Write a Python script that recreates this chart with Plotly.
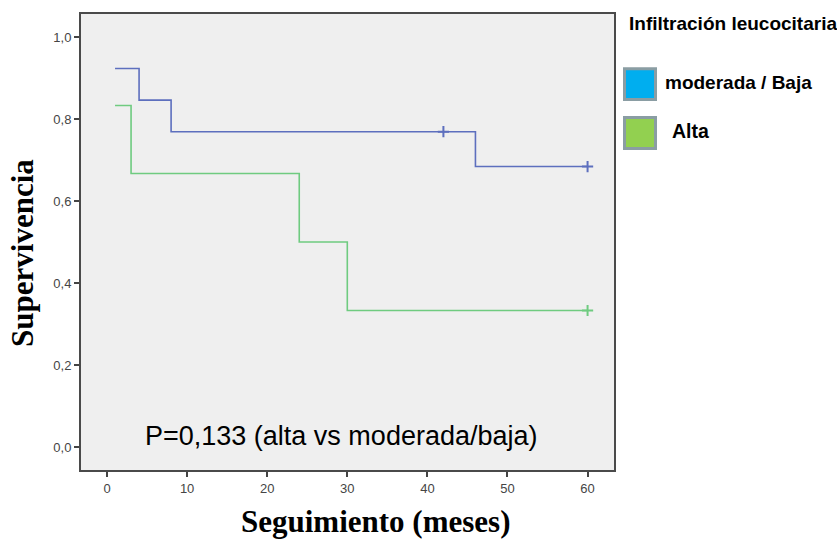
import plotly.graph_objects as go

# Kaplan-Meier step data
blue_t = [1, 4, 8, 46, 60]
blue_s = [0.923, 0.846, 0.769, 0.684, 0.684]
blue_cens_t = [42, 60]
blue_cens_s = [0.769, 0.684]

green_t = [1, 3, 24, 30, 60]
green_s = [0.833, 0.667, 0.5, 0.333, 0.333]
green_cens_t = [60]
green_cens_s = [0.333]

y_ticks = [0.0, 0.2, 0.4, 0.6, 0.8, 1.0]
y_ticktext = ["0,0", "0,2", "0,4", "0,6", "0,8", "1,0"]
x_ticks = [0, 10, 20, 30, 40, 50, 60]

legend_labels = ["moderada / Baja", "Alta"]
legend_fill = ["#00AEEF", "#92D050"]

blue_col = "#5D6FBE"
green_col = "#6FCB80"

fig = go.Figure()
fig.add_trace(go.Scatter(x=blue_t, y=blue_s, mode="lines", line=dict(shape="hv", color=blue_col, width=1.6), showlegend=False))
fig.add_trace(go.Scatter(x=green_t, y=green_s, mode="lines", line=dict(shape="hv", color=green_col, width=1.6), showlegend=False))
fig.add_trace(go.Scatter(x=blue_cens_t, y=blue_cens_s, mode="markers",
                         marker=dict(symbol="cross-thin", size=8, line=dict(color=blue_col, width=2)), showlegend=False))
fig.add_trace(go.Scatter(x=green_cens_t, y=green_cens_s, mode="markers",
                         marker=dict(symbol="cross-thin", size=8, line=dict(color=green_col, width=2)), showlegend=False))

fig.update_layout(
    width=837, height=539,
    margin=dict(l=81, r=223, t=12, b=69),
    paper_bgcolor="white", plot_bgcolor="#EFEFEF",
    font=dict(family="Arial, Liberation Sans, sans-serif", color="#404040"),
)
fig.update_xaxes(range=[-3.25, 63.3], tickvals=x_ticks, ticks="outside", ticklen=5, tickwidth=1.5, tickcolor="#444",
                 showgrid=False, zeroline=False, showline=True, linecolor="#4A4A4A", linewidth=2, mirror=True,
                 tickfont=dict(size=13, color="#454545"))
fig.update_yaxes(range=[-0.056, 1.056], tickvals=y_ticks, ticktext=y_ticktext, ticks="outside", ticklen=5, tickwidth=1.5,
                 tickcolor="#444", showgrid=False, zeroline=False, showline=True, linecolor="#4A4A4A", linewidth=2, mirror=True,
                 tickfont=dict(size=13, color="#454545"))

# axis titles
fig.add_annotation(text="<b>Supervivencia</b>", xref="paper", yref="paper", x=(23 - 81) / 533, y=1 - (252 - 12) / 458,
                   xanchor="center", yanchor="middle", textangle=-90, showarrow=False,
                   font=dict(family="Liberation Serif, Times New Roman, serif", size=31, color="black"))
fig.add_annotation(text="<b>Seguimiento (meses)</b>", xref="paper", yref="paper", x=(375 - 81) / 533, y=-(522 - 470) / 458,
                   xanchor="center", yanchor="middle", showarrow=False,
                   font=dict(family="Liberation Serif, Times New Roman, serif", size=31, color="black"))

# p-value text
fig.add_annotation(text="P=0,133 (alta vs moderada/baja)", xref="paper", yref="paper", x=(341 - 81) / 533, y=1 - (436 - 12) / 458,
                   xanchor="center", yanchor="middle", showarrow=False,
                   font=dict(family="Arial, Liberation Sans, sans-serif", size=27, color="black"))

# legend title
fig.add_annotation(text="<b>Infiltración leucocitaria</b>", xref="paper", yref="paper", x=(733 - 81) / 533, y=1 - (22 - 12) / 458,
                   xanchor="center", yanchor="middle", showarrow=False,
                   font=dict(family="Arial, Liberation Sans, sans-serif", size=19, color="black"))

# legend boxes and labels
box_tops = [66, 115]
label_x = [663, 670]
label_size = [19, 19.5]
for i, lab in enumerate(legend_labels):
    y0 = box_tops[i]
    fig.add_shape(type="rect", xref="paper", yref="paper",
                  x0=(624.5 - 81) / 533, x1=(655.5 - 81) / 533,
                  y0=1 - (y0 + 32 - 12) / 458, y1=1 - (y0 + 1 - 12) / 458,
                  fillcolor=legend_fill[i], line=dict(color="#8A9DA3", width=3))
    fig.add_annotation(text="<b>" + lab + "</b>", xref="paper", yref="paper", x=(label_x[i] - 81) / 533,
                       y=1 - (y0 + 15 - 12) / 458, xanchor="left", yanchor="middle", showarrow=False,
                       font=dict(family="Arial, Liberation Sans, sans-serif", size=label_size[i], color="black"))

fig.write_html("out.html")
